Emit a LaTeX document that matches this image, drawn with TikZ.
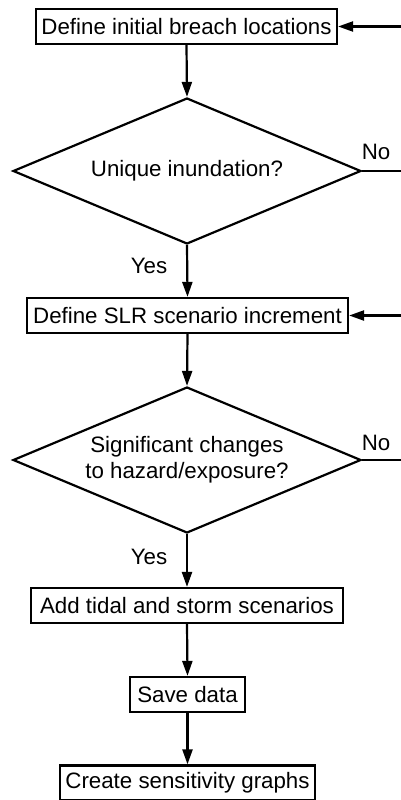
\documentclass[tikz,border=0pt]{standalone}
\usepackage{fontspec}
\setmainfont{Liberation Sans}
\usetikzlibrary{arrows.meta,shapes.geometric}
\begin{document}
\begin{tikzpicture}[x=1pt,y=-1pt,
  every node/.style={font=\fontsize{22.3}{26}\selectfont},
  procbox/.style={draw,line width=2.2pt,rectangle,inner sep=0pt,minimum height=35pt},
  decision/.style={draw,line width=2.2pt,diamond,inner sep=0pt,aspect=2.38,
     minimum width=348pt,minimum height=146pt,align=center},
  flow/.style={line width=2.2pt,-{Triangle[length=15pt,width=10pt]}},
  plain/.style={line width=2.2pt},
  lbl/.style={inner sep=0pt}]
\useasboundingbox (0,0) rectangle (401,800);
\fill[white] (0,0) rectangle (401,800);
\node[procbox,minimum width=301pt] (b1) at (186.5,26.5) {Define initial breach locations};
\node[decision] (d1) at (187,171) {Unique inundation?};
\node[procbox,minimum width=321pt] (b2) at (187.5,315.5) {Define SLR scenario increment};
\node[decision] (d2) at (187,460) {Significant changes\\to hazard/exposure?};
\node[procbox,minimum width=312pt] (b3) at (187,605.5) {Add tidal and storm scenarios};
\node[procbox,minimum width=115pt] (b4) at (187.5,694.5) {Save data};
\node[procbox,minimum width=255pt] (b5) at (187.5,783) {Create sensitivity graphs};
\coordinate (r1) at (401,26.5);
\coordinate (n1) at (401,171);
\coordinate (r2) at (401,315.5);
\coordinate (n2) at (401,460);
\node[lbl] (no1) at (376,152) {No};
\node[lbl] (no2) at (376,443) {No};
\node[lbl] (yes1) at (149,266) {Yes};
\node[lbl] (yes2) at (149,557) {Yes};
\draw[flow] (b1.south) -- (d1.north);
\draw[flow] (d1.south) -- (b2.north);
\draw[flow] (b2.south) -- (d2.north);
\draw[flow] (d2.south) -- (b3.north);
\draw[flow] (b3.south) -- (b4.north);
\draw[flow] (b4.south) -- (b5.north);
\draw[flow] (r1) -- (b1.east);
\draw[flow] (r2) -- (b2.east);
\draw[plain] (d1.east) -- (n1);
\draw[plain] (d2.east) -- (n2);
\end{tikzpicture}
\end{document}
